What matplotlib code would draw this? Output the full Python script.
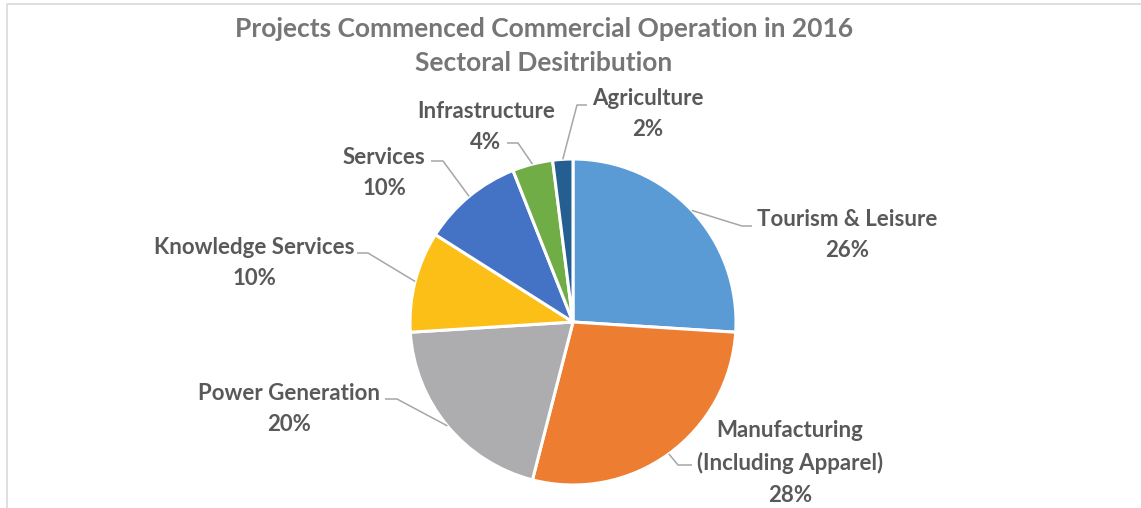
import matplotlib
matplotlib.use("Agg")
import matplotlib.pyplot as plt
import numpy as np
from matplotlib.lines import Line2D

# sector shares, clockwise from 12 o'clock
sectors = ["Tourism & Leisure", "Manufacturing\n(Including Apparel)", "Power Generation",
           "Knowledge Services", "Services", "Infrastructure", "Agriculture"]
shares = [26, 28, 20, 10, 10, 4, 2]
colors = ["#5B9BD5", "#ED7D31", "#ADADAF", "#FBBF17", "#4472C4", "#70AD47", "#255E91"]

title = "Projects Commenced Commercial Operation in 2016\nSectoral Desitribution"

# label layout in pixels: text centre, elbow of leader, end of leader at text
W, H = 1141, 508
CX, CY, R = 573, 322, 163
label_xy = [(847, 235), (790, 463), (289, 409), (254, 263), (384, 173), (486, 127), (648, 114)]
elbow_xy = [(742, 226), (678, 465), (397, 399), (368, 253), (443, 161), (518, 143), (577, 105)]
end_xy = [(752, 226), (692, 465), (385, 399), (357, 253), (431, 161), (507, 143), (587, 105)]


def to_data(p):
    return ((p[0] - CX) / R, (CY - p[1]) / R)


fig = plt.figure(figsize=(W / 100, H / 100), dpi=100)
ax = fig.add_axes([0, 0, 1, 1])

wedges, _ = ax.pie(shares, colors=colors, startangle=90, counterclock=False,
                   radius=1.0, wedgeprops=dict(edgecolor="white", linewidth=2.2))
ax.set_aspect("auto")
ax.set_xlim(-CX / R, (W - CX) / R)
ax.set_ylim((CY - H) / R, CY / R)
ax.axis("off")

font = "Lato"
for w, name, pct, lxy, exy, nxy in zip(wedges, sectors, shares, label_xy, elbow_xy, end_xy):
    mid = np.deg2rad((w.theta1 + w.theta2) / 2)
    anchor = (np.cos(mid), np.sin(mid))
    e = to_data(exy)
    n = to_data(nxy)
    ax.plot([anchor[0], e[0], n[0]], [anchor[1], e[1], n[1]], color="#A6A6A6", lw=1.1,
            solid_capstyle="butt")
    tx, ty = to_data(lxy)
    ax.text(tx, ty, f"{name}\n{pct}%", ha="center", va="center", ma="center",
            fontsize=16, fontweight="bold", family=font, color="#595959", linespacing=1.62)

fig.text(544 / W, 1 - 46 / H, title, ha="center", va="center", fontsize=19,
         fontweight="bold", family=font, color="#767676", linespacing=1.5)

# chart border (top and left edges visible)
fig.add_artist(Line2D([7 / W, 7 / W, 1], [0, 1 - 3.5 / H, 1 - 3.5 / H], color="#D9D9D9", lw=1.2))

fig.savefig("out.png", dpi=100, facecolor="white")
